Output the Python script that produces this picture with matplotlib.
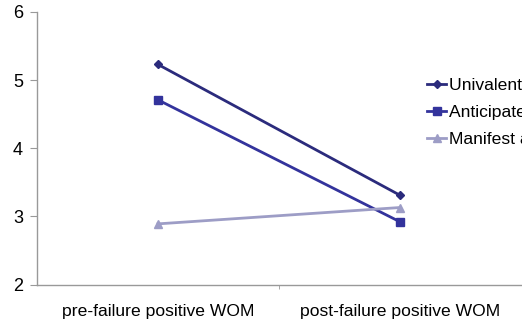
import matplotlib
matplotlib.use('Agg')
from matplotlib import pyplot as plt

categories = ['pre-failure positive WOM', 'post-failure positive WOM']
univalent = [5.23, 3.31]
anticipated = [4.71, 2.92]
manifest = [2.89, 3.13]
labels = ['Univalent attitudes', 'Anticipated ambivalence', 'Manifest ambivalence']

plt.rcParams['font.family'] = ['Liberation Sans', 'DejaVu Sans']

fig = plt.figure(figsize=(5.22, 3.28), dpi=100)
ax = fig.add_axes([37 / 522, 1 - 284.5 / 328, 484 / 522, (284.5 - 12) / 328])

x = [0, 1]
ax.plot(x, univalent, color='#2b2b7c', lw=2, marker='D', ms=4, label=labels[0])
ax.plot(x, anticipated, color='#33339c', lw=2, marker='s', ms=6, label=labels[1])
ax.plot(x, manifest, color='#9d9dc6', lw=2, marker='^', ms=6, label=labels[2])

ax.set_xlim(-0.5, 1.5)
ax.set_ylim(2, 6)
ax.set_yticks([2, 3, 4, 5, 6])
ax.set_xticks(x)
ax.set_xticklabels(categories)
ax.set_xticks([0.5], minor=True)

for s in ['top', 'right']:
    ax.spines[s].set_visible(False)
for s in ['left', 'bottom']:
    ax.spines[s].set_color('#999999')
    ax.spines[s].set_linewidth(1)

ax.tick_params(axis='y', which='major', length=5, color='#999999', labelsize=13, pad=5)
ax.tick_params(axis='x', which='major', length=0, labelsize=12.6, pad=14)
ax.tick_params(axis='x', which='minor', length=3, color='#999999')

leg = ax.legend(loc='upper left', bbox_to_anchor=(0.806, 0.757), frameon=False,
                fontsize=12.6, handlelength=1.1, handletextpad=0.15,
                labelspacing=0.66, borderaxespad=0, borderpad=0)

fig.savefig('out.png', dpi=100)
